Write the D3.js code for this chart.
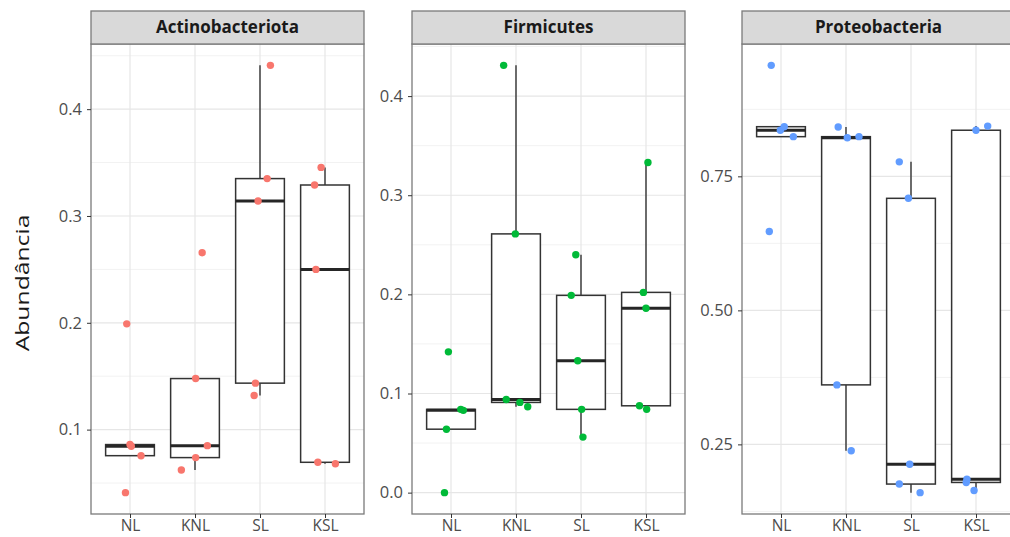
<!DOCTYPE html>
<html>
<head>
<meta charset="utf-8">
<script src="https://cdn.jsdelivr.net/npm/d3@7"></script>
<style>
  body { margin: 0; background: #fff; }
  text { font-family: "Open Sans", "Noto Sans", sans-serif; }
</style>
</head>
<body>
<svg width="1010" height="537"></svg>
<script>
// groups on x axis
const categories = ["NL", "KNL", "SL", "KSL"];
const phyla = ["Actinobacteriota", "Firmicutes", "Proteobacteria"];
const colors = ["#F8766D", "#00BA38", "#619CFF"];

// abundance per sample, one array per group
const actino = [
    [0.041, 0.0756, 0.0844, 0.086, 0.199],
    [0.0622, 0.0738, 0.085, 0.1478, 0.2656],
    [0.132, 0.1435, 0.314, 0.335, 0.441],
    [0.068, 0.0694, 0.25, 0.329, 0.3455]
];
const firmi = [
    [0.0, 0.064, 0.083, 0.084, 0.142],
    [0.0866, 0.091, 0.094, 0.261, 0.431],
    [0.056, 0.084, 0.133, 0.199, 0.24],
    [0.084, 0.0876, 0.186, 0.202, 0.333]
];
const proteo = [
    [0.647, 0.824, 0.836, 0.8426, 0.957],
    [0.238, 0.361, 0.822, 0.824, 0.842],
    [0.16, 0.176, 0.213, 0.709, 0.777],
    [0.164, 0.179, 0.185, 0.836, 0.8437]
];
// horizontal jitter of each point (fraction of one group step), same order as values
const actinoJitter = [
    [-0.07, 0.17, 0.02, 0.0, -0.05],
    [-0.21, 0.01, 0.19, 0.01, 0.11],
    [-0.09, -0.07, -0.03, 0.11, 0.16],
    [0.16, -0.11, -0.14, -0.16, -0.06]
];
const firmiJitter = [
    [-0.1, -0.07, 0.19, 0.15, -0.04],
    [0.18, 0.06, -0.15, -0.01, -0.19],
    [0.03, 0.01, -0.05, -0.15, -0.08],
    [0.01, -0.1, 0.0, -0.04, 0.03]
];
const proteoJitter = [
    [-0.18, 0.19, -0.01, 0.05, -0.15],
    [0.08, -0.14, 0.02, 0.2, -0.12],
    [0.14, -0.18, -0.02, -0.04, -0.18],
    [-0.03, -0.15, -0.14, 0.0, 0.18]
];
const yTicks = [[0.1, 0.2, 0.3, 0.4], [0.0, 0.1, 0.2, 0.3, 0.4], [0.25, 0.50, 0.75]];
const yTickFormat = [".1f", ".1f", ".2f"];

const values = [actino, firmi, proteo];
const jitters = [actinoJitter, firmiJitter, proteoJitter];

const svg = d3.select("svg");
const panelLeft = [91, 412, 742];
const panelW = 273;
const stripTop = 11, plotTop = 44, plotBottom = 514;

// y title (stretched along its length like the original)
svg.append("text")
    .attr("transform", "translate(22,283) rotate(-90) scale(1.3,1)")
    .attr("text-anchor", "middle")
    .attr("dy", "0.35em")
    .style("font-size", "19px")
    .style("fill", "#1a1a1a")
    .text("Abundância");

phyla.forEach((name, p) => {
    const x0 = panelLeft[p];
    const g = svg.append("g");
    const data = values[p];

    const x = d3.scalePoint()
        .domain(categories)
        .range([x0, x0 + panelW])
        .padding(0.6);
    const step = x.step();

    const all = data.flat();
    const lo = d3.min(all), hi = d3.max(all);
    const pad = (hi - lo) * 0.05;
    const y = d3.scaleLinear()
        .domain([lo - pad, hi + pad])
        .range([plotBottom, plotTop]);

    // panel background + grid
    g.append("rect")
        .attr("x", x0).attr("y", plotTop)
        .attr("width", panelW).attr("height", plotBottom - plotTop)
        .style("fill", "#fff");

    const ticks = yTicks[p];
    const tStep = ticks[1] - ticks[0];
    const minor = [];
    for (let i = -1; i < ticks.length; i++) {
        const m = ticks[0] + (i + 0.5) * tStep;
        if (m > y.domain()[0] && m < y.domain()[1]) minor.push(m);
    }
    g.selectAll(".minor").data(minor).enter().append("line")
        .attr("x1", x0).attr("x2", x0 + panelW)
        .attr("y1", d => y(d)).attr("y2", d => y(d))
        .style("stroke", "#f2f2f2").style("stroke-width", 1);
    g.selectAll(".major").data(ticks).enter().append("line")
        .attr("x1", x0).attr("x2", x0 + panelW)
        .attr("y1", d => y(d)).attr("y2", d => y(d))
        .style("stroke", "#e6e6e6").style("stroke-width", 1.2);
    g.selectAll(".vgrid").data(categories).enter().append("line")
        .attr("x1", d => x(d)).attr("x2", d => x(d))
        .attr("y1", plotTop).attr("y2", plotBottom)
        .style("stroke", "#e6e6e6").style("stroke-width", 1.2);

    // boxplots
    const boxW = step * 0.75;
    categories.forEach((c, i) => {
        const v = data[i].slice().sort(d3.ascending);
        const q1 = d3.quantile(v, 0.25), med = d3.quantile(v, 0.5), q3 = d3.quantile(v, 0.75);
        const iqr = q3 - q1;
        const wLo = d3.min(v.filter(d => d >= q1 - 1.5 * iqr));
        const wHi = d3.max(v.filter(d => d <= q3 + 1.5 * iqr));
        const cx = x(c);
        g.append("line")
            .attr("x1", cx).attr("x2", cx).attr("y1", y(q3)).attr("y2", y(wHi))
            .style("stroke", "#333").style("stroke-width", 1.4);
        g.append("line")
            .attr("x1", cx).attr("x2", cx).attr("y1", y(q1)).attr("y2", y(wLo))
            .style("stroke", "#333").style("stroke-width", 1.4);
        g.append("rect")
            .attr("x", cx - boxW / 2).attr("y", y(q3))
            .attr("width", boxW).attr("height", y(q1) - y(q3))
            .style("fill", "#fff").style("stroke", "#333").style("stroke-width", 1.5);
        g.append("line")
            .attr("x1", cx - boxW / 2).attr("x2", cx + boxW / 2)
            .attr("y1", y(med)).attr("y2", y(med))
            .style("stroke", "#262626").style("stroke-width", 3);
    });

    // jittered points
    const pts = [];
    categories.forEach((c, i) => {
        data[i].forEach((d, j) => pts.push({ c: c, v: d, j: jitters[p][i][j] }));
    });
    g.selectAll(".pt").data(pts).enter().append("circle")
        .attr("cx", d => x(d.c) + d.j * step)
        .attr("cy", d => y(d.v))
        .attr("r", 3.7)
        .style("fill", colors[p]);

    // panel border
    g.append("rect")
        .attr("x", x0).attr("y", plotTop)
        .attr("width", panelW).attr("height", plotBottom - plotTop)
        .style("fill", "none").style("stroke", "#7a7a7a").style("stroke-width", 1.3);

    // strip
    g.append("rect")
        .attr("x", x0).attr("y", stripTop)
        .attr("width", panelW).attr("height", plotTop - stripTop)
        .style("fill", "#d9d9d9").style("stroke", "#7a7a7a").style("stroke-width", 1.3);
    g.append("text")
        .attr("x", x0 + panelW / 2).attr("y", (stripTop + plotTop) / 2)
        .attr("text-anchor", "middle").attr("dy", "0.35em")
        .style("font-size", "17px").style("font-weight", "bold").style("fill", "#1a1a1a")
        .text(name);

    // axes
    const yAxis = d3.axisLeft(y).tickValues(ticks).tickSize(4).tickPadding(5)
        .tickFormat(d3.format(yTickFormat[p]));
    const ya = g.append("g").attr("transform", "translate(" + x0 + ",0)").call(yAxis);
    ya.select(".domain").remove();
    ya.selectAll("line").style("stroke", "#333");
    ya.selectAll("text").style("font-size", "16.5px").style("fill", "#4d4d4d")
        .style("font-family", "'Open Sans', sans-serif");

    const xAxis = d3.axisBottom(x).tickSize(4).tickPadding(2);
    const xa = g.append("g").attr("transform", "translate(0," + plotBottom + ")").call(xAxis);
    xa.select(".domain").remove();
    xa.selectAll("line").style("stroke", "#333");
    xa.selectAll("text").style("font-size", "15.5px").style("fill", "#4d4d4d")
        .style("font-family", "'Open Sans', sans-serif");
});
</script>
</body>
</html>
